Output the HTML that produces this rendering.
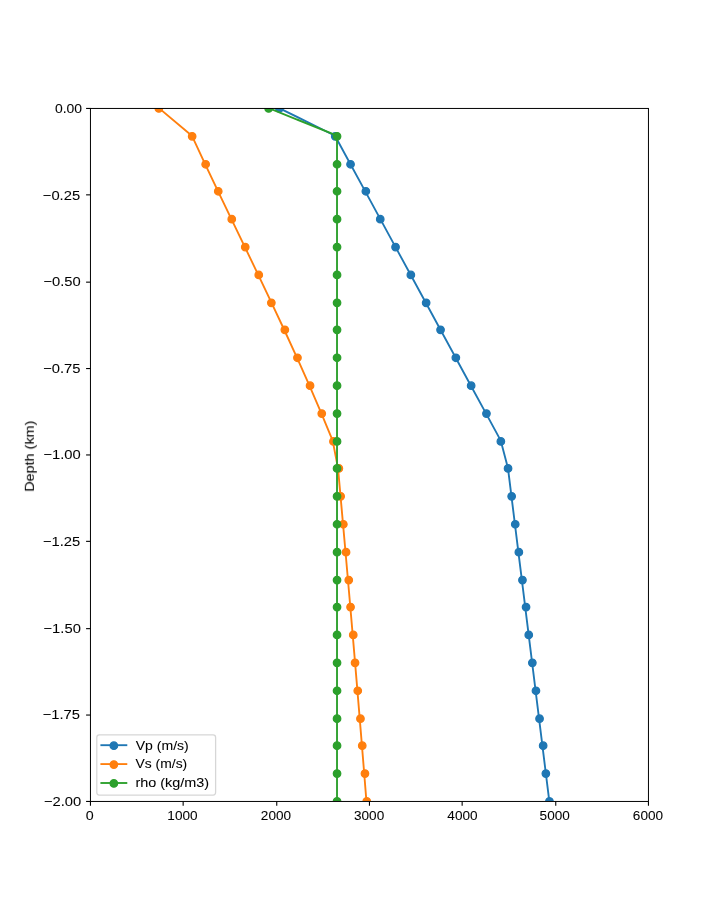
<!DOCTYPE html>
<html lang="en">
<head>
<meta charset="utf-8">
<title>Velocity and density vs depth</title>
<style>
html,body{margin:0;padding:0;background:#fff;}
body{width:720px;height:900px;overflow:hidden;}
svg{display:block;}
text{font-family:"Liberation Sans",sans-serif;font-size:13.20px;fill:#000;stroke:#000;stroke-width:0.06;}
.sp{stroke:#000;stroke-width:1;fill:none;}
.tk{stroke:#000;stroke-width:1.1;fill:none;}
.ln{fill:none;stroke-width:1.875;stroke-linejoin:round;stroke-linecap:square;}
</style>
</head>
<body>
<svg width="720" height="900" viewBox="0 0 720 900">
<rect width="720" height="900" fill="#fff"/>
<g style="opacity:0.999">
<defs><clipPath id="ax"><rect x="90" y="108" width="558" height="693"/></clipPath></defs>
<g id="xaxis">
<line class="tk" x1="90.45" y1="801.45" x2="90.45" y2="805.83"/><text x="89.70" y="819.95" text-anchor="middle" textLength="7.95" lengthAdjust="spacingAndGlyphs">0</text>
<line class="tk" x1="183.15" y1="801.45" x2="183.15" y2="805.83"/><text x="182.50" y="820.25" text-anchor="middle" textLength="30.22" lengthAdjust="spacingAndGlyphs">1000</text>
<line class="tk" x1="276.75" y1="801.45" x2="276.75" y2="805.83"/><text x="276.00" y="820.25" text-anchor="middle" textLength="30.22" lengthAdjust="spacingAndGlyphs">2000</text>
<line class="tk" x1="369.45" y1="801.45" x2="369.45" y2="805.83"/><text x="369.10" y="820.25" text-anchor="middle" textLength="30.22" lengthAdjust="spacingAndGlyphs">3000</text>
<line class="tk" x1="462.15" y1="801.45" x2="462.15" y2="805.83"/><text x="462.50" y="820.25" text-anchor="middle" textLength="30.22" lengthAdjust="spacingAndGlyphs">4000</text>
<line class="tk" x1="555.75" y1="801.45" x2="555.75" y2="805.83"/><text x="554.70" y="820.30" text-anchor="middle" textLength="30.22" lengthAdjust="spacingAndGlyphs">5000</text>
<line class="tk" x1="648.45" y1="801.45" x2="648.45" y2="805.83"/><text x="647.95" y="820.30" text-anchor="middle" textLength="30.22" lengthAdjust="spacingAndGlyphs">6000</text>
</g>
<g id="yaxis">
<line class="tk" x1="86.08" y1="108.45" x2="90.45" y2="108.45"/><text x="82.05" y="113.25" text-anchor="end" textLength="27.14" lengthAdjust="spacingAndGlyphs">0.00</text>
<line class="tk" x1="86.08" y1="194.85" x2="90.45" y2="194.85"/><text x="80.15" y="200.27" text-anchor="end" textLength="37.35" lengthAdjust="spacingAndGlyphs">−0.25</text>
<line class="tk" x1="86.08" y1="282.15" x2="90.45" y2="282.15"/><text x="80.75" y="286.30" text-anchor="end" textLength="37.35" lengthAdjust="spacingAndGlyphs">−0.50</text>
<line class="tk" x1="86.08" y1="368.55" x2="90.45" y2="368.55"/><text x="80.50" y="372.62" text-anchor="end" textLength="37.35" lengthAdjust="spacingAndGlyphs">−0.75</text>
<line class="tk" x1="86.08" y1="454.95" x2="90.45" y2="454.95"/><text x="80.75" y="459.30" text-anchor="end" textLength="37.35" lengthAdjust="spacingAndGlyphs">−1.00</text>
<line class="tk" x1="86.08" y1="541.35" x2="90.45" y2="541.35"/><text x="80.25" y="546.12" text-anchor="end" textLength="37.35" lengthAdjust="spacingAndGlyphs">−1.25</text>
<line class="tk" x1="86.08" y1="628.65" x2="90.45" y2="628.65"/><text x="80.85" y="632.50" text-anchor="end" textLength="37.35" lengthAdjust="spacingAndGlyphs">−1.50</text>
<line class="tk" x1="86.08" y1="715.05" x2="90.45" y2="715.05"/><text x="80.05" y="719.22" text-anchor="end" textLength="37.35" lengthAdjust="spacingAndGlyphs">−1.75</text>
<line class="tk" x1="86.08" y1="801.45" x2="90.45" y2="801.45"/><text x="81.30" y="806.30" text-anchor="end" textLength="37.35" lengthAdjust="spacingAndGlyphs">−2.00</text>
</g>
<text x="34.04" y="456.20" text-anchor="middle" textLength="71.22" lengthAdjust="spacingAndGlyphs" transform="rotate(-90 34.04 456.20)">Depth (km)</text>
<g clip-path="url(#ax)">
<polyline class="ln" stroke="#1f77b4" points="279.00,108.00 335.00,135.72 350.07,163.44 365.14,191.16 380.21,218.88 395.28,246.60 410.35,274.32 425.42,302.04 440.49,329.76 455.56,357.48 470.63,385.20 485.70,412.92 500.77,440.64 508.00,468.36 511.44,496.08 514.88,523.80 518.32,551.52 521.76,579.24 525.20,606.96 528.64,634.68 532.08,662.40 535.52,690.12 538.96,717.84 542.40,745.56 545.84,773.28 549.28,801.00"/>
<g fill="#1f77b4" stroke="#1f77b4" stroke-width="1.25"><circle cx="279.45" cy="108.45" r="3.75"/><circle cx="335.25" cy="136.35" r="3.75"/><circle cx="350.55" cy="164.25" r="3.75"/><circle cx="365.85" cy="191.25" r="3.75"/><circle cx="380.25" cy="219.15" r="3.75"/><circle cx="395.55" cy="247.05" r="3.75"/><circle cx="410.85" cy="274.95" r="3.75"/><circle cx="426.15" cy="302.85" r="3.75"/><circle cx="440.55" cy="329.85" r="3.75"/><circle cx="455.85" cy="357.75" r="3.75"/><circle cx="471.15" cy="385.65" r="3.75"/><circle cx="486.45" cy="413.55" r="3.75"/><circle cx="500.85" cy="441.45" r="3.75"/><circle cx="508.05" cy="468.45" r="3.75"/><circle cx="511.65" cy="496.35" r="3.75"/><circle cx="515.25" cy="524.25" r="3.75"/><circle cx="518.85" cy="552.15" r="3.75"/><circle cx="522.45" cy="580.05" r="3.75"/><circle cx="526.05" cy="607.05" r="3.75"/><circle cx="528.75" cy="634.95" r="3.75"/><circle cx="532.35" cy="662.85" r="3.75"/><circle cx="535.95" cy="690.75" r="3.75"/><circle cx="539.55" cy="718.65" r="3.75"/><circle cx="543.15" cy="745.65" r="3.75"/><circle cx="545.85" cy="773.55" r="3.75"/><circle cx="549.45" cy="801.45" r="3.75"/></g>
<polyline class="ln" stroke="#ff7f0e" points="158.73,108.00 191.87,135.72 204.78,163.44 217.96,191.16 231.30,218.88 244.68,246.60 258.02,274.32 271.22,302.04 284.20,329.76 296.89,357.48 309.23,385.20 321.17,412.92 332.67,440.64 338.02,468.36 340.53,496.08 343.01,523.80 345.47,551.52 347.90,579.24 350.31,606.96 352.69,634.68 355.04,662.40 357.37,690.12 359.67,717.84 361.94,745.56 364.19,773.28 366.41,801.00"/>
<g fill="#ff7f0e" stroke="#ff7f0e" stroke-width="1.25"><circle cx="158.85" cy="108.45" r="3.75"/><circle cx="192.15" cy="136.35" r="3.75"/><circle cx="205.65" cy="164.25" r="3.75"/><circle cx="218.25" cy="191.25" r="3.75"/><circle cx="231.75" cy="219.15" r="3.75"/><circle cx="245.25" cy="247.05" r="3.75"/><circle cx="258.75" cy="274.95" r="3.75"/><circle cx="271.35" cy="302.85" r="3.75"/><circle cx="284.85" cy="329.85" r="3.75"/><circle cx="297.45" cy="357.75" r="3.75"/><circle cx="310.05" cy="385.65" r="3.75"/><circle cx="321.75" cy="413.55" r="3.75"/><circle cx="333.45" cy="441.45" r="3.75"/><circle cx="338.85" cy="468.45" r="3.75"/><circle cx="340.65" cy="496.35" r="3.75"/><circle cx="343.35" cy="524.25" r="3.75"/><circle cx="346.05" cy="552.15" r="3.75"/><circle cx="348.75" cy="580.05" r="3.75"/><circle cx="350.55" cy="607.05" r="3.75"/><circle cx="353.25" cy="634.95" r="3.75"/><circle cx="355.05" cy="662.85" r="3.75"/><circle cx="357.75" cy="690.75" r="3.75"/><circle cx="360.45" cy="718.65" r="3.75"/><circle cx="362.25" cy="745.65" r="3.75"/><circle cx="364.95" cy="773.55" r="3.75"/><circle cx="366.75" cy="801.45" r="3.75"/></g>
<polyline class="ln" stroke="#2ca02c" points="268.47,108.00 337.01,135.72 337.01,163.44 337.01,191.16 337.01,218.88 337.01,246.60 337.01,274.32 337.01,302.04 337.01,329.76 337.01,357.48 337.01,385.20 337.01,412.92 337.01,440.64 337.01,468.36 337.01,496.08 337.01,523.80 337.01,551.52 337.01,579.24 337.01,606.96 337.01,634.68 337.01,662.40 337.01,690.12 337.01,717.84 337.01,745.56 337.01,773.28 337.01,801.00"/>
<g fill="#2ca02c" stroke="#2ca02c" stroke-width="1.25"><circle cx="268.65" cy="108.45" r="3.75"/><circle cx="337.05" cy="136.35" r="3.75"/><circle cx="337.05" cy="164.25" r="3.75"/><circle cx="337.05" cy="191.25" r="3.75"/><circle cx="337.05" cy="219.15" r="3.75"/><circle cx="337.05" cy="247.05" r="3.75"/><circle cx="337.05" cy="274.95" r="3.75"/><circle cx="337.05" cy="302.85" r="3.75"/><circle cx="337.05" cy="329.85" r="3.75"/><circle cx="337.05" cy="357.75" r="3.75"/><circle cx="337.05" cy="385.65" r="3.75"/><circle cx="337.05" cy="413.55" r="3.75"/><circle cx="337.05" cy="441.45" r="3.75"/><circle cx="337.05" cy="468.45" r="3.75"/><circle cx="337.05" cy="496.35" r="3.75"/><circle cx="337.05" cy="524.25" r="3.75"/><circle cx="337.05" cy="552.15" r="3.75"/><circle cx="337.05" cy="580.05" r="3.75"/><circle cx="337.05" cy="607.05" r="3.75"/><circle cx="337.05" cy="634.95" r="3.75"/><circle cx="337.05" cy="662.85" r="3.75"/><circle cx="337.05" cy="690.75" r="3.75"/><circle cx="337.05" cy="718.65" r="3.75"/><circle cx="337.05" cy="745.65" r="3.75"/><circle cx="337.05" cy="773.55" r="3.75"/><circle cx="337.05" cy="801.45" r="3.75"/></g>
</g>
<rect class="sp" x="90.45" y="108.45" width="558" height="693"/>
<rect x="96.80" y="734.88" width="118.80" height="60.22" rx="2.5" ry="2.5" fill="#fff" fill-opacity="0.8" stroke="#ccc" stroke-opacity="0.8" stroke-width="1.25"/>
<line class="ln" stroke="#1f77b4" x1="101.35" y1="745.19" x2="126.35" y2="745.19"/><circle cx="113.85" cy="745.66" r="3.75" fill="#1f77b4" stroke="#1f77b4" stroke-width="1.25"/><text x="135.65" y="749.91" text-anchor="start" textLength="53.11" lengthAdjust="spacingAndGlyphs">Vp (m/s)</text>
<line class="ln" stroke="#ff7f0e" x1="101.35" y1="764.09" x2="126.35" y2="764.09"/><circle cx="113.85" cy="764.56" r="3.75" fill="#ff7f0e" stroke="#ff7f0e" stroke-width="1.25"/><text x="135.55" y="768.10" text-anchor="start" textLength="51.69" lengthAdjust="spacingAndGlyphs">Vs (m/s)</text>
<line class="ln" stroke="#2ca02c" x1="101.35" y1="783.00" x2="126.35" y2="783.00"/><circle cx="113.85" cy="783.45" r="3.75" fill="#2ca02c" stroke="#2ca02c" stroke-width="1.25"/><text x="135.40" y="787.30" text-anchor="start" textLength="73.73" lengthAdjust="spacingAndGlyphs">rho (kg/m3)</text>
</g>
</svg>
</body>
</html>
